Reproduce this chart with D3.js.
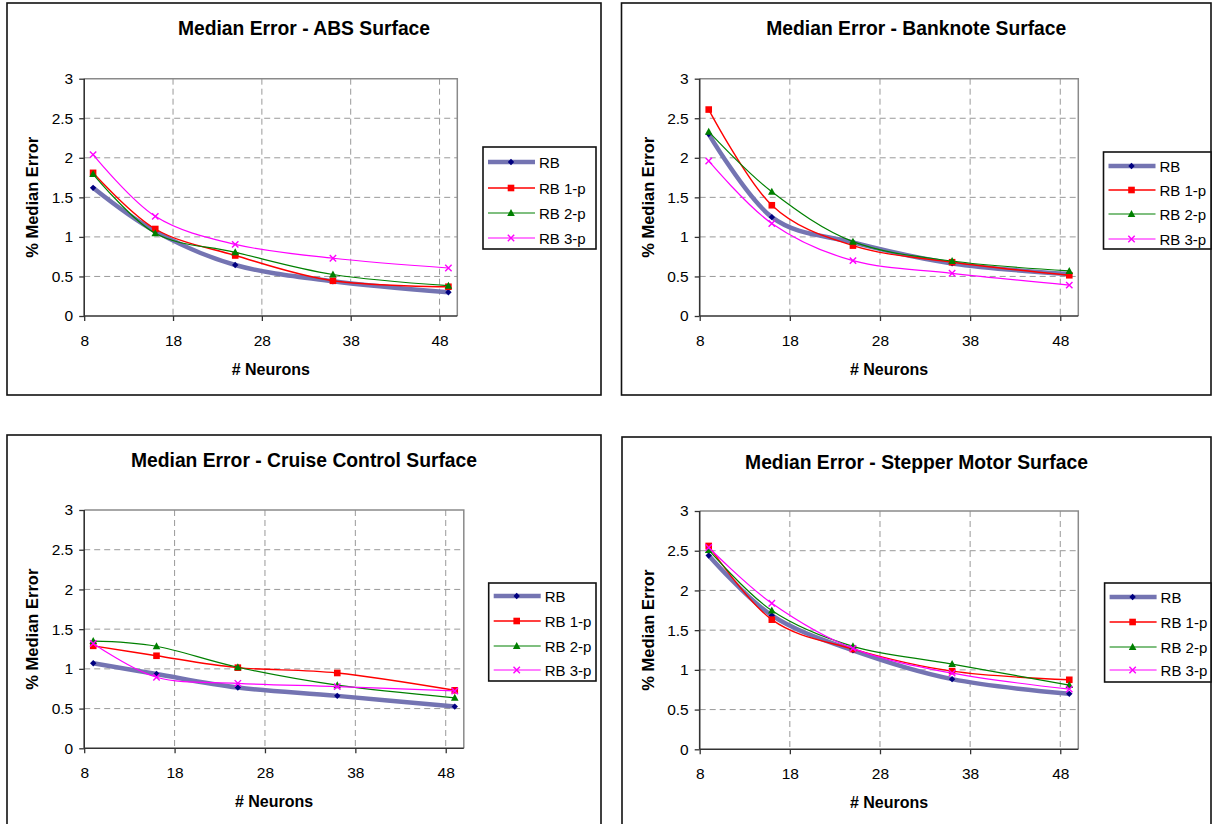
<!DOCTYPE html>
<html><head><meta charset="utf-8">
<script src="https://cdn.jsdelivr.net/npm/d3@7"></script>
<style>
html,body{margin:0;padding:0;background:#fff;}
svg{display:block;font-family:"Liberation Sans",Arial,sans-serif;}
.tick text{font-size:15.5px;font-family:"Liberation Sans",Arial,sans-serif;fill:#000;}
</style></head>
<body><svg id="c" width="1213" height="824"></svg>
<script>
// ---- data ----
const neurons = [9, 16, 25, 36, 49];
const seriesNames = ["RB", "RB 1-p", "RB 2-p", "RB 3-p"];
const xTicks = [8, 18, 28, 38, 48];
const yTicks = [0, 0.5, 1, 1.5, 2, 2.5, 3];
const titles = ["Median Error - ABS Surface", "Median Error - Banknote Surface",
                "Median Error - Cruise Control Surface", "Median Error - Stepper Motor Surface"];

const absRB   = [1.62, 1.07, 0.645, 0.44, 0.30];
const absRB1  = [1.81, 1.10, 0.765, 0.445, 0.37];
const absRB2  = [1.795, 1.045, 0.805, 0.525, 0.383];
const absRB3  = [2.04, 1.26, 0.905, 0.73, 0.607];

const bankRB  = [2.30, 1.25, 0.93, 0.665, 0.53];
const bankRB1 = [2.61, 1.40, 0.89, 0.68, 0.515];
const bankRB2 = [2.33, 1.57, 0.94, 0.695, 0.57];
const bankRB3 = [1.96, 1.17, 0.70, 0.54, 0.39];

const cruiseRB  = [1.07, 0.935, 0.765, 0.66, 0.525];
const cruiseRB1 = [1.29, 1.165, 1.015, 0.948, 0.73];
const cruiseRB2 = [1.35, 1.285, 1.02, 0.795, 0.635];
const cruiseRB3 = [1.32, 0.895, 0.818, 0.776, 0.722];

const stepRB  = [2.44, 1.685, 1.245, 0.883, 0.698];
const stepRB1 = [2.56, 1.632, 1.262, 0.984, 0.875];
const stepRB2 = [2.51, 1.746, 1.296, 1.073, 0.808];
const stepRB3 = [2.54, 1.838, 1.27, 0.959, 0.757];

const panelData = [
  [absRB, absRB1, absRB2, absRB3],
  [bankRB, bankRB1, bankRB2, bankRB3],
  [cruiseRB, cruiseRB1, cruiseRB2, cruiseRB3],
  [stepRB, stepRB1, stepRB2, stepRB3]
];

// ---- styles / layout ----
const styles = [
  {line:"#7474b2", width:4.5, mark:"#000080", sym:"diamond"},
  {line:"#ff0000", width:1.4, mark:"#ff0000", sym:"square"},
  {line:"#008000", width:1.2, mark:"#008000", sym:"triangle"},
  {line:"#ff00ff", width:1.2, mark:"#ff00ff", sym:"x"}
];
const layouts = [
  {box:[7,3,601,395],    plot:[84.2,78.7,457.3,316],  titleY:35, legend:[483,147,596,249], rows:[162,188,213,238]},
  {box:[621.5,3,1211,395], plot:[699.7,78.7,1078.3,316], titleY:35, legend:[1103.5,152,1211,249], rows:[166,190,214,239]},
  {box:[7,435,601,830],  plot:[84.2,510,463.8,748.3], titleY:467, legend:[488.7,583,596,681], rows:[596,621,646,670]},
  {box:[622,437,1211,830], plot:[699.7,511,1078.3,749.3], titleY:468.5, legend:[1104.6,583,1211,682], rows:[597,622,647,670]}
];

const svg = d3.select("#c");

function drawMarker(g, sym, x, y, st) {
  if (sym === "x") {
    const s = 3.2;
    g.append("path").attr("d", `M${x-s},${y-s}L${x+s},${y+s}M${x-s},${y+s}L${x+s},${y-s}`)
      .attr("stroke", st.mark).attr("stroke-width", 1.4).attr("fill", "none");
  } else if (sym === "diamond") {
    const s = 3.2;
    g.append("path").attr("d", `M${x},${y-s}L${x+s},${y}L${x},${y+s}L${x-s},${y}Z`).attr("fill", st.mark);
  } else if (sym === "square") {
    g.append("rect").attr("x", x-3.3).attr("y", y-3.3).attr("width", 6.6).attr("height", 6.6).attr("fill", st.mark);
  } else {
    g.append("path").attr("d", `M${x},${y-4}L${x+3.8},${y+3}L${x-3.8},${y+3}Z`).attr("fill", st.mark);
  }
}

layouts.forEach((L, i) => {
  const g = svg.append("g");
  const [bx0, by0, bx1, by1] = L.box;
  g.append("rect").attr("x", bx0).attr("y", by0).attr("width", bx1-bx0).attr("height", by1-by0)
    .attr("fill", "#fff").attr("stroke", "#111").attr("stroke-width", 1.6);

  const [px0, py0, px1, py1] = L.plot;
  const x = d3.scaleLinear().domain([8, 50]).range([px0, px1]);
  const y = d3.scaleLinear().domain([0, 3]).range([py1, py0]);

  // gridlines
  g.append("g").selectAll("line").data(yTicks.filter(t => t > 0 && t < 3)).join("line")
    .attr("x1", px0).attr("x2", px1).attr("y1", d => y(d)).attr("y2", d => y(d))
    .attr("stroke", "#999").attr("stroke-width", 1).attr("stroke-dasharray", "6,4");
  g.append("g").selectAll("line").data(xTicks.filter(t => t > 8)).join("line")
    .attr("x1", d => x(d)).attr("x2", d => x(d)).attr("y1", py0).attr("y2", py1)
    .attr("stroke", "#999").attr("stroke-width", 1).attr("stroke-dasharray", "6,4");
  // top / right plot border
  g.append("path").attr("d", `M${px0},${py0}H${px1}V${py1}`).attr("fill", "none")
    .attr("stroke", "#8a8a8a").attr("stroke-width", 1.5);

  // axes
  const yAxis = d3.axisLeft(y).tickValues(yTicks).tickSize(5).tickPadding(6).tickFormat(d3.format("~g"));
  const xAxis = d3.axisBottom(x).tickValues(xTicks).tickSize(5).tickPadding(14).tickFormat(d3.format("d"));
  const ya = g.append("g").attr("transform", `translate(${px0},0)`).call(yAxis);
  const xa = g.append("g").attr("transform", `translate(0,${py1})`).call(xAxis);
  [ya, xa].forEach(a => {
    a.attr("font-size", null).attr("font-family", null);
    a.select(".domain").attr("stroke", "#333").attr("stroke-width", 1.6);
    a.selectAll(".tick line").attr("stroke", "#333").attr("stroke-width", 1.3);
    a.selectAll(".tick text").style("fill", "#000");
  });
  xa.select(".domain").attr("d", `M${px0},0H${px1}`);
  ya.select(".domain").attr("d", `M0,${py1}V${py0}`);

  // title
  g.append("text").attr("x", (bx0 + bx1) / 2).attr("y", L.titleY).attr("text-anchor", "middle")
    .attr("font-size", 19.3).attr("font-weight", "bold").text(titles[i]);
  // axis titles
  g.append("text").attr("x", (px0 + px1) / 2).attr("y", py1 + 59).attr("text-anchor", "middle")
    .attr("font-size", 16).attr("font-weight", "bold").text("# Neurons");
  g.append("text").attr("transform", `translate(${px0 - 46},${(py0 + py1) / 2}) rotate(-90)`)
    .attr("text-anchor", "middle").attr("font-size", 16.5).attr("font-weight", "bold").text("% Median Error");

  // series
  const line = d3.line().x((d, j) => x(neurons[j])).y(d => y(d)).curve(d3.curveCardinal.tension(0));
  panelData[i].forEach((vals, s) => {
    const st = styles[s];
    g.append("path").attr("d", line(vals)).attr("fill", "none")
      .attr("stroke", st.line).attr("stroke-width", st.width).attr("stroke-linejoin", "round");
    const mg = g.append("g");
    vals.forEach((v, j) => drawMarker(mg, st.sym, x(neurons[j]), y(v), st));
  });

  // legend
  const [lx0, ly0, lx1, ly1] = L.legend;
  g.append("rect").attr("x", lx0).attr("y", ly0).attr("width", lx1 - lx0).attr("height", ly1 - ly0)
    .attr("fill", "#fff").attr("stroke", "#111").attr("stroke-width", 1.6);
  seriesNames.forEach((name, s) => {
    const st = styles[s];
    const yy = L.rows[s];
    g.append("line").attr("x1", lx0 + 5).attr("x2", lx0 + 52).attr("y1", yy).attr("y2", yy)
      .attr("stroke", st.line).attr("stroke-width", st.width);
    drawMarker(g, st.sym, lx0 + 28, yy, st);
    g.append("text").attr("x", lx0 + 56).attr("y", yy + 5.5).attr("font-size", 15).text(name);
  });
});
</script>
</body></html>
